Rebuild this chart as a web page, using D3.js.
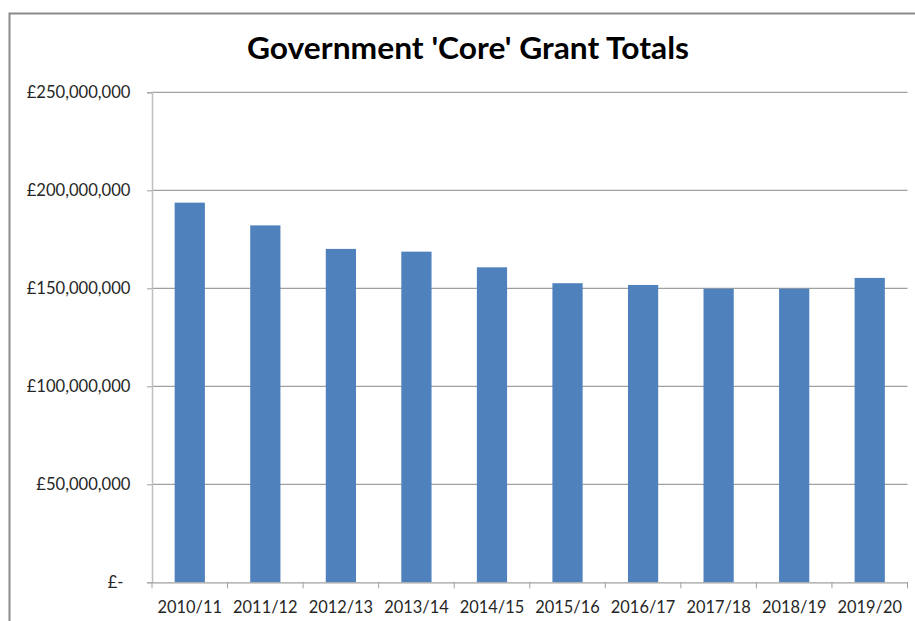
<!DOCTYPE html>
<html>
<head>
<meta charset="utf-8">
<script src="https://cdn.jsdelivr.net/npm/d3@7"></script>
<style>
  html, body { margin: 0; padding: 0; background: #fff; }
  svg { display: block; }
</style>
</head>
<body>
<svg id="chart" width="915" height="621"></svg>
<script>
// Annual 'core' grant totals (pounds)
const years = ["2010/11", "2011/12", "2012/13", "2013/14", "2014/15",
               "2015/16", "2016/17", "2017/18", "2018/19", "2019/20"];
const grantTotals = [193700000, 182100000, 170100000, 168700000, 160700000,
                     152600000, 151700000, 149800000, 149800000, 155300000];
const yTicks = [0, 50000000, 100000000, 150000000, 200000000, 250000000];
const titleText = "Government 'Core' Grant Totals";

const svg = d3.select("#chart");
const plot = { left: 152, right: 907.5, top: 92.3, bottom: 582.3 };

// Outer chart frame (runs off the right and bottom edges)
svg.append("rect")
  .attr("x", 9.5).attr("y", 13.5)
  .attr("width", 1000).attr("height", 700)
  .attr("fill", "#fff")
  .attr("stroke", "#8a8a8a")
  .attr("stroke-width", 2);

// Title
svg.append("text")
  .attr("x", 468).attr("y", 59)
  .attr("text-anchor", "middle")
  .attr("font-family", "Lato, 'Open Sans', sans-serif")
  .attr("font-weight", "bold")
  .attr("font-size", 31)
  .attr("textLength", 442)
  .attr("lengthAdjust", "spacingAndGlyphs")
  .attr("fill", "#000")
  .text(titleText);

const x = d3.scaleBand()
  .domain(years)
  .range([plot.left, plot.right])
  .paddingInner(0.6)
  .paddingOuter(0.3);

const y = d3.scaleLinear()
  .domain([0, 250000000])
  .range([plot.bottom, plot.top]);

const gbp = d3.format(",.0f");

// Horizontal gridlines
svg.append("g")
  .selectAll("line")
  .data(yTicks.filter(d => d > 0))
  .join("line")
  .attr("x1", plot.left).attr("x2", plot.right)
  .attr("y1", d => y(d)).attr("y2", d => y(d))
  .attr("stroke", "#a0a0a0")
  .attr("stroke-width", 1.2);

// Bars
svg.append("g")
  .selectAll("rect")
  .data(years.map((yr, i) => ({ yr, v: grantTotals[i] })))
  .join("rect")
  .attr("x", d => x(d.yr))
  .attr("width", x.bandwidth())
  .attr("y", d => y(d.v))
  .attr("height", d => y(0) - y(d.v))
  .attr("fill", "#4f81bd");

// Y axis
const yAxis = svg.append("g")
  .attr("transform", `translate(${plot.left},0)`)
  .call(d3.axisLeft(y)
    .tickValues(yTicks)
    .tickSize(5)
    .tickPadding(16.5)
    .tickFormat(d => d === 0 ? "£-" : "£" + gbp(d)));
yAxis.select(".domain").attr("stroke", "#bfbfbf").attr("stroke-width", 1.5);
yAxis.selectAll(".tick line").attr("stroke", "#a0a0a0");
yAxis.selectAll(".tick text")
  .attr("font-family", "Lato, 'Open Sans', sans-serif")
  .attr("font-size", 16.6)
  .attr("fill", "#262626")
  .attr("dx", d => d === 0 ? -7 : 0);

// X axis: labels centred under bars, ticks on category boundaries
const xAxis = svg.append("g")
  .attr("transform", `translate(0,${plot.bottom})`)
  .call(d3.axisBottom(x).tickSize(0).tickPadding(19));
xAxis.select(".domain").attr("stroke", "#a0a0a0").attr("stroke-width", 1.3);
xAxis.selectAll(".tick text")
  .attr("font-family", "Lato, 'Open Sans', sans-serif")
  .attr("font-size", 16.4)
  .attr("fill", "#262626");

const step = x.step();
const bounds = years.map(yr => x(yr) - (step - x.bandwidth()) / 2)
  .concat([plot.right]);
xAxis.append("g")
  .selectAll("line")
  .data(bounds)
  .join("line")
  .attr("x1", d => d).attr("x2", d => d)
  .attr("y1", 0).attr("y2", 6)
  .attr("stroke", "#a0a0a0");
</script>
</body>
</html>
